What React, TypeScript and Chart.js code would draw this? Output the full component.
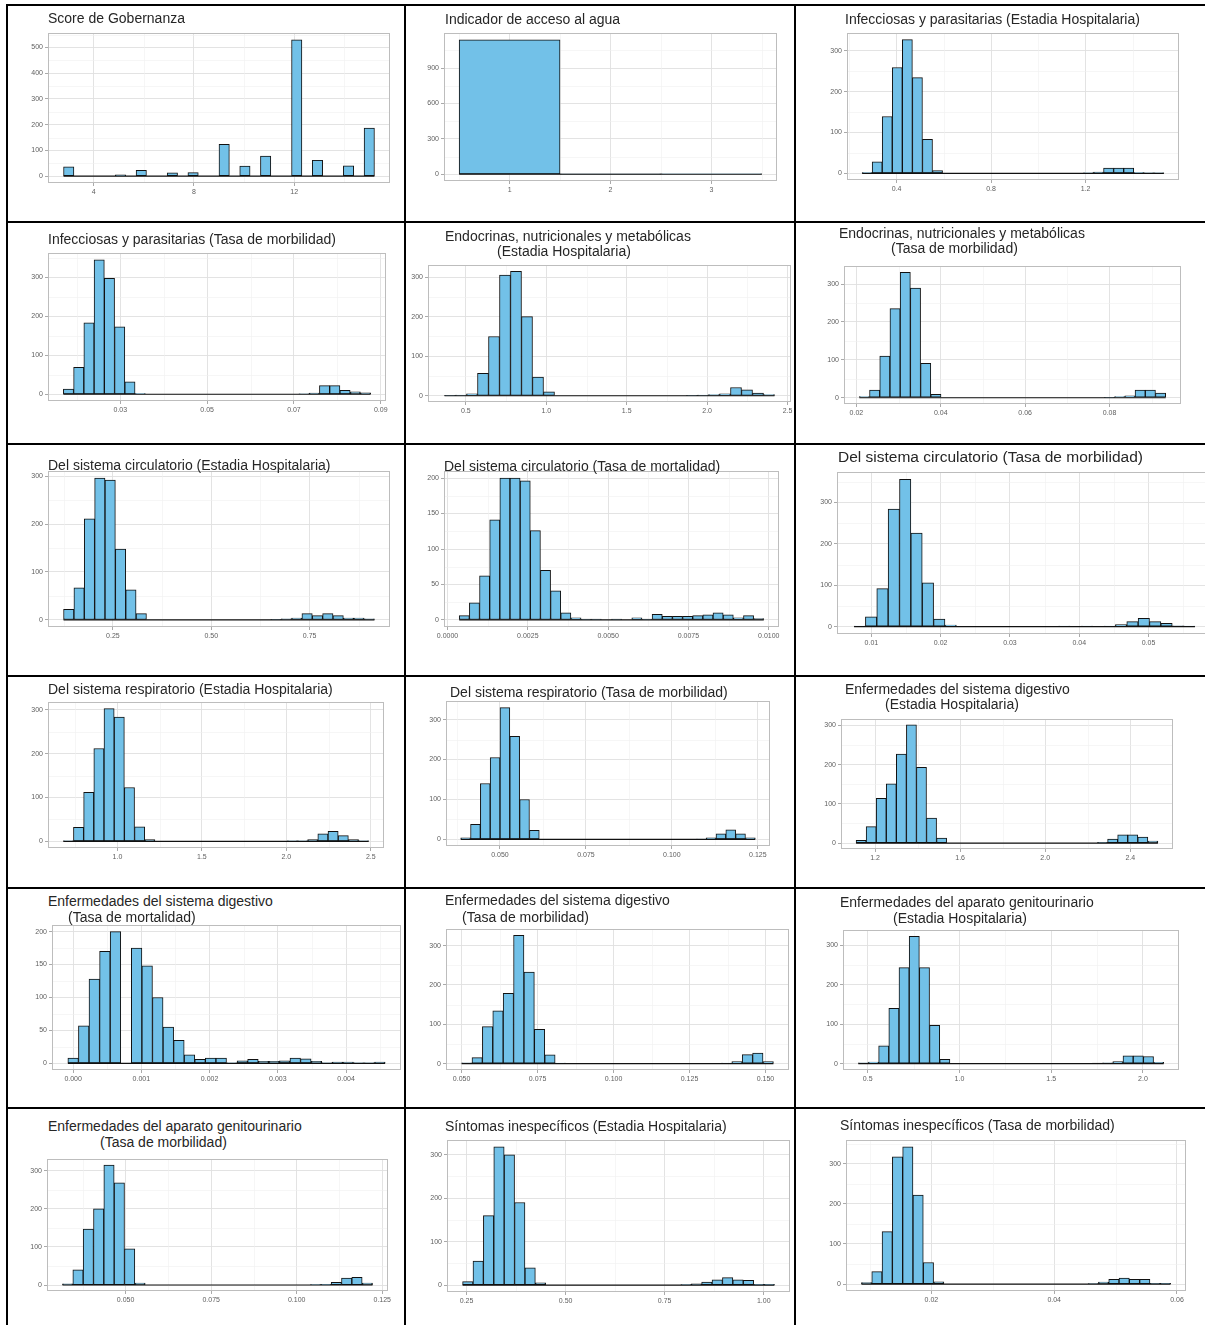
import React, { useEffect, useRef } from "react";
import { Chart, registerables } from "chart.js";

Chart.register(...registerables);

// ------------------------------------------------------------------
// DATA (counts per histogram bin, bin starts/widths, tick values)
// ------------------------------------------------------------------
const gobernanzaCounts = [36, 0, 0, 0, 0, 5, 0, 23, 0, 0, 13, 0, 14, 0, 0, 124, 0, 39, 0, 78, 0, 0, 530, 0, 62, 0, 0, 40, 0, 187];
const aguaCounts = [1140, 1, 2];
const infEstadiaCounts = [2, 28, 139, 259, 327, 234, 83, 7, 0, 0, 0, 0, 0, 0, 0, 0, 0, 0, 0, 0, 0, 0, 1, 3, 13, 13, 13, 2, 1, 1];
const infMorbCounts = [13, 69, 183, 345, 297, 173, 32, 2, 0, 0, 0, 0, 0, 0, 0, 0, 0, 0, 0, 0, 0, 0, 0, 1, 3, 22, 22, 10, 6, 4];
const endoEstadiaCounts = [1, 2, 5, 57, 150, 305, 315, 200, 47, 10, 0, 0, 0, 0, 0, 0, 0, 0, 0, 0, 0, 0, 1, 2, 3, 5, 21, 15, 7, 3];
const endoMorbCounts = [3, 20, 110, 235, 331, 289, 91, 9, 0, 0, 0, 0, 0, 0, 0, 0, 0, 0, 0, 0, 0, 0, 0, 0, 1, 3, 5, 20, 20, 12];
const circEstadiaCounts = [22, 67, 211, 296, 292, 148, 63, 13, 0, 0, 0, 0, 0, 0, 0, 0, 0, 0, 0, 0, 1, 2, 4, 13, 9, 13, 9, 4, 4, 2];
const circMortCounts = [6, 24, 62, 141, 200, 200, 196, 126, 70, 41, 10, 3, 1, 1, 0, 1, 0, 3, 1, 8, 5, 5, 5, 6, 7, 10, 7, 3, 6, 2];
const circMorbCounts = [1, 24, 92, 284, 356, 226, 106, 18, 4, 0, 0, 0, 0, 0, 0, 0, 0, 0, 1, 0, 1, 0, 1, 5, 12, 20, 12, 8, 2, 1];
const respEstadiaCounts = [1, 32, 112, 212, 303, 284, 123, 33, 4, 0, 0, 0, 0, 0, 0, 0, 0, 0, 0, 0, 0, 0, 1, 1, 4, 17, 23, 13, 4, 1];
const respMorbCounts = [4, 38, 140, 205, 330, 258, 100, 23, 0, 0, 0, 0, 0, 0, 0, 0, 0, 0, 0, 0, 0, 0, 0, 0, 1, 4, 14, 24, 14, 4];
const digEstadiaCounts = [7, 42, 114, 151, 227, 301, 193, 64, 13, 0, 0, 0, 0, 0, 0, 0, 0, 0, 0, 0, 0, 0, 0, 0, 2, 10, 21, 21, 15, 5];
const digMortCounts = [8, 57, 128, 170, 200, 0, 175, 148, 100, 55, 35, 13, 6, 8, 8, 1, 4, 6, 3, 3, 4, 8, 7, 3, 1, 2, 2, 1, 1, 2];
const digMorbCounts = [2, 15, 94, 134, 179, 326, 233, 87, 22, 1, 0, 0, 0, 0, 0, 0, 0, 0, 0, 0, 0, 0, 0, 0, 0, 1, 5, 23, 27, 5];
const genEstadiaCounts = [2, 4, 45, 140, 243, 322, 243, 97, 11, 0, 0, 0, 0, 0, 0, 0, 0, 0, 0, 0, 0, 0, 0, 1, 2, 5, 20, 20, 18, 3];
const genMorbCounts = [3, 40, 147, 200, 315, 268, 95, 5, 0, 0, 0, 0, 0, 0, 0, 0, 0, 0, 0, 0, 0, 0, 0, 0, 1, 2, 7, 18, 20, 5];
const sinEstadiaCounts = [8, 55, 160, 318, 300, 190, 40, 5, 0, 0, 0, 0, 0, 0, 0, 0, 0, 0, 0, 0, 0, 1, 3, 7, 12, 17, 12, 11, 2, 2];
const sinMorbCounts = [4, 31, 131, 317, 342, 222, 54, 6, 0, 0, 0, 0, 0, 0, 0, 0, 0, 0, 0, 0, 0, 0, 1, 5, 12, 15, 12, 12, 2, 2];

const binStarts = [2.793, 0.5, 0.254, 0.01687, 0.367, 0.0207, 0.1247, 0.000365, 0.0075, 0.679, 0.0386, 1.111, -0.0000775, 0.05, 0.4484, 0.03155, 0.24, 0.00861];
const binWidths = [0.4138, 1, 0.0426, 0.00236, 0.0684, 0.00242, 0.02633, 0.000316, 0.00164, 0.0603, 0.002855, 0.0473, 0.000155, 0.00342, 0.0555, 0.00302, 0.02623, 0.001678];

const gobernanzaTicks = [4, 8, 12];
const aguaTicks = [1, 2, 3];
const infEstadiaTicks = [0.4, 0.8, 1.2];
const infMorbTicks = [0.03, 0.05, 0.07, 0.09];
const endoEstadiaTicks = [0.5, 1.0, 1.5, 2.0, 2.5];
const endoMorbTicks = [0.02, 0.04, 0.06, 0.08];
const circEstadiaTicks = [0.25, 0.5, 0.75];
const circMortTicks = [0, 0.0025, 0.005, 0.0075, 0.01];
const circMorbTicks = [0.01, 0.02, 0.03, 0.04, 0.05];
const respEstadiaTicks = [1.0, 1.5, 2.0, 2.5];
const respMorbTicks = [0.05, 0.075, 0.1, 0.125];
const digEstadiaTicks = [1.2, 1.6, 2.0, 2.4];
const digMortTicks = [0, 0.001, 0.002, 0.003, 0.004];
const digMorbTicks = [0.05, 0.075, 0.1, 0.125, 0.15];
const genEstadiaTicks = [0.5, 1.0, 1.5, 2.0];
const genMorbTicks = [0.05, 0.075, 0.1, 0.125];
const sinEstadiaTicks = [0.25, 0.5, 0.75, 1.0];
const sinMorbTicks = [0.02, 0.04, 0.06];

const xDecimals = [0, 0, 1, 2, 1, 2, 2, 4, 2, 1, 3, 1, 3, 3, 1, 3, 2, 2];
const yTickSteps = [100, 300, 100, 100, 100, 100, 100, 50, 100, 100, 100, 100, 50, 100, 100, 100, 100, 100];

const titles: string[][] = [
  ["Score de Gobernanza"],
  ["Indicador de acceso al agua"],
  ["Infecciosas y parasitarias (Estadia Hospitalaria)"],
  ["Infecciosas y parasitarias (Tasa de morbilidad)"],
  ["Endocrinas, nutricionales y metabólicas", "(Estadia Hospitalaria)"],
  ["Endocrinas, nutricionales y metabólicas", "(Tasa de morbilidad)"],
  ["Del sistema circulatorio (Estadia Hospitalaria)"],
  ["Del sistema circulatorio (Tasa de mortalidad)"],
  ["Del sistema circulatorio (Tasa de morbilidad)"],
  ["Del sistema respiratorio (Estadia Hospitalaria)"],
  ["Del sistema respiratorio (Tasa de morbilidad)"],
  ["Enfermedades del sistema digestivo", "(Estadia Hospitalaria)"],
  ["Enfermedades del sistema digestivo", "(Tasa de mortalidad)"],
  ["Enfermedades del sistema digestivo", "(Tasa de morbilidad)"],
  ["Enfermedades del aparato genitourinario", "(Estadia Hospitalaria)"],
  ["Enfermedades del aparato genitourinario", "(Tasa de morbilidad)"],
  ["Síntomas inespecíficos (Estadia Hospitalaria)"],
  ["Síntomas inespecíficos (Tasa de morbilidad)"],
];

const countSeries = [
  gobernanzaCounts, aguaCounts, infEstadiaCounts, infMorbCounts, endoEstadiaCounts, endoMorbCounts,
  circEstadiaCounts, circMortCounts, circMorbCounts, respEstadiaCounts, respMorbCounts, digEstadiaCounts,
  digMortCounts, digMorbCounts, genEstadiaCounts, genMorbCounts, sinEstadiaCounts, sinMorbCounts,
];
const tickSeries = [
  gobernanzaTicks, aguaTicks, infEstadiaTicks, infMorbTicks, endoEstadiaTicks, endoMorbTicks,
  circEstadiaTicks, circMortTicks, circMorbTicks, respEstadiaTicks, respMorbTicks, digEstadiaTicks,
  digMortTicks, digMorbTicks, genEstadiaTicks, genMorbTicks, sinEstadiaTicks, sinMorbTicks,
];

// ------------------------------------------------------------------
// LAYOUT (plot-panel rectangles and title positions, page pixels)
// ------------------------------------------------------------------
const panelRects: [number, number, number, number][] = [
  [48, 33, 390, 183], [444, 33, 777, 181], [847, 33, 1179, 180],
  [48, 253, 386, 401], [428, 265, 791, 402], [844, 266, 1181, 404],
  [48, 471, 390, 627], [444, 471, 779, 627], [837, 472, 1212, 634],
  [48, 702, 384, 848], [446, 701, 770, 846], [841, 719, 1173, 849],
  [52, 925, 401, 1070], [446, 929, 789, 1070], [843, 930, 1179, 1070],
  [47, 1159, 388, 1291], [447, 1140, 790, 1292], [846, 1140, 1186, 1291],
];
const titleXs = [
  [48], [445], [845],
  [48], [445, 497], [839, 891],
  [48], [444], [838],
  [48], [450], [845, 885],
  [48, 68], [445, 462], [840, 893],
  [48, 100], [445], [840],
];
const titleYs = [
  [18], [19], [19],
  [239], [236, 251], [233, 248],
  [465], [466], [457],
  [689], [692], [689, 704],
  [901, 917], [900, 917], [902, 918],
  [1126, 1142], [1126], [1125],
];
const titleSizes = [14, 14, 14, 14, 14, 14, 14, 14, 15.5, 14, 14, 14, 14, 14, 14, 14, 14, 14];
const vLines = [7, 405, 795];
const hLines = [5, 222, 444, 676, 888, 1108];

// ------------------------------------------------------------------
// STYLE
// ------------------------------------------------------------------
const FONT = '"Liberation Sans", Arial, Helvetica, sans-serif';
const FILL = "#72C1E8";
const EDGE = "#111111";
const GRID_MAJOR = "#E0E0E0";
const GRID_MINOR = "#F0F0F0";
const PANEL_BORDER = "#BDBDBD";
const TICK_COLOR = "#A0A0A0";
const LABEL_COLOR = "#5E5E5E";
const AXIS_W = 34;
const AXIS_H = 18;
const PAD_T = 8;
const PAD_R = 24;

const ggPlugin = {
  id: "ggStyle",
  beforeDatasetsDraw(chart: any) {
    const { ctx, chartArea: a, scales } = chart;
    const x = scales.x;
    const y = scales.y;
    ctx.save();
    ctx.beginPath();
    ctx.rect(a.left, a.top, a.right - a.left, a.bottom - a.top);
    ctx.clip();
    ctx.strokeStyle = GRID_MINOR;
    ctx.lineWidth = 0.6;
    const drawMinor = (scale: any, horizontal: boolean) => {
      const vals = scale.ticks.map((t: any) => t.value);
      if (vals.length === 0) return;
      const step = vals.length > 1 ? vals[1] - vals[0] : 1;
      const k0 = Math.floor((scale.min - vals[0]) / step) - 1;
      const k1 = Math.ceil((scale.max - vals[0]) / step) + 1;
      for (let k = k0; k <= k1; k++) {
        const v = vals[0] + (k + 0.5) * step;
        if (v < scale.min || v > scale.max) continue;
        const p = Math.round(scale.getPixelForValue(v)) + 0.5;
        ctx.beginPath();
        if (horizontal) {
          ctx.moveTo(p, a.top);
          ctx.lineTo(p, a.bottom);
        } else {
          ctx.moveTo(a.left, p);
          ctx.lineTo(a.right, p);
        }
        ctx.stroke();
      }
    };
    drawMinor(x, true);
    drawMinor(y, false);
    ctx.restore();
  },
  afterDatasetsDraw(chart: any, _args: any, opts: any) {
    const { ctx, chartArea: a, scales } = chart;
    const x = scales.x;
    const y = scales.y;
    ctx.save();
    ctx.strokeStyle = EDGE;
    ctx.lineWidth = 1.2;
    const y0 = y.getPixelForValue(0);
    ctx.beginPath();
    ctx.moveTo(x.getPixelForValue(opts.first), y0);
    ctx.lineTo(x.getPixelForValue(opts.last), y0);
    ctx.stroke();
    ctx.strokeStyle = PANEL_BORDER;
    ctx.lineWidth = 1;
    ctx.strokeRect(a.left + 0.5, a.top + 0.5, a.right - a.left - 1, a.bottom - a.top - 1);
    ctx.restore();
  },
};

function Histogram({ idx }: { idx: number }) {
  const ref = useRef<HTMLCanvasElement>(null);
  const [L, T, R, B] = panelRects[idx];
  const cw = R - L + AXIS_W + PAD_R;
  const ch = B - T + PAD_T + AXIS_H;

  useEffect(() => {
    if (!ref.current) return;
    const counts = countSeries[idx];
    const start = binStarts[idx];
    const w = binWidths[idx];
    const first = start;
    const last = start + counts.length * w;
    const span = last - first;
    const maxC = Math.max(...counts);
    const yMax = 1.05 * maxC;
    const yStep = yTickSteps[idx];
    const majors = tickSeries[idx];
    const dec = xDecimals[idx];
    const tickFont = { family: FONT, size: 7 };

    const chart = new Chart(ref.current, {
      type: "bar",
      data: {
        datasets: [
          {
            data: counts.map((c, i) => ({ x: start + (i + 0.5) * w, y: c })),
            backgroundColor: FILL,
            borderColor: EDGE,
            borderWidth: 1,
            borderSkipped: false,
            barPercentage: 1,
            categoryPercentage: 1,
          } as any,
        ],
      },
      options: {
        animation: false,
        responsive: false,
        maintainAspectRatio: false,
        devicePixelRatio: 1,
        events: [],
        layout: { padding: { top: PAD_T, right: PAD_R, left: 0, bottom: 0 } },
        plugins: {
          legend: { display: false },
          tooltip: { enabled: false },
          title: { display: false },
          ggStyle: { first, last },
        } as any,
        scales: {
          x: {
            type: "linear",
            min: first - 0.05 * span,
            max: last + 0.05 * span,
            offset: false,
            border: { display: false },
            grid: { offset: false, color: GRID_MAJOR, lineWidth: 0.9, tickLength: 3, tickColor: TICK_COLOR },
            afterBuildTicks: (s: any) => {
              s.ticks = majors.map((v) => ({ value: v }));
            },
            afterFit: (s: any) => {
              s.height = AXIS_H;
            },
            ticks: {
              autoSkip: false,
              maxRotation: 0,
              minRotation: 0,
              padding: 2,
              color: LABEL_COLOR,
              font: tickFont,
              callback: (v: any) => Number(v).toFixed(dec),
            },
          },
          y: {
            type: "linear",
            min: -0.05 * maxC,
            max: yMax,
            border: { display: false },
            grid: { color: GRID_MAJOR, lineWidth: 0.9, tickLength: 3, tickColor: TICK_COLOR },
            afterBuildTicks: (s: any) => {
              const t: { value: number }[] = [];
              for (let k = 0; k * yStep <= yMax; k++) t.push({ value: k * yStep });
              s.ticks = t;
            },
            afterFit: (s: any) => {
              s.width = AXIS_W;
            },
            ticks: {
              autoSkip: false,
              padding: 2,
              color: LABEL_COLOR,
              font: tickFont,
              callback: (v: any) => String(Math.round(Number(v))),
            },
          },
        },
      } as any,
      plugins: [ggPlugin],
    });
    return () => chart.destroy();
  }, [idx]);

  return (
    <canvas
      ref={ref}
      width={cw}
      height={ch}
      style={{ position: "absolute", left: L - AXIS_W, top: T - PAD_T, width: cw, height: ch }}
    />
  );
}

function Title({ idx }: { idx: number }) {
  const size = titleSizes[idx];
  return (
    <>
      {titles[idx].map((line, j) => (
        <div
          key={j}
          style={{
            position: "absolute",
            left: titleXs[idx][j],
            top: titleYs[idx][j] - 9,
            height: 18,
            lineHeight: "18px",
            fontSize: size,
            fontFamily: FONT,
            color: "#262626",
            whiteSpace: "nowrap",
          }}
        >
          {line}
        </div>
      ))}
    </>
  );
}

export default function App() {
  return (
    <div
      style={{
        position: "absolute",
        left: 0,
        top: 0,
        width: 1205,
        height: 1325,
        overflow: "hidden",
        background: "#ffffff",
      }}
    >
      {countSeries.map((_, i) => (
        <Histogram key={"h" + i} idx={i} />
      ))}
      {countSeries.map((_, i) => (
        <Title key={"t" + i} idx={i} />
      ))}
      {vLines.map((x, i) => (
        <div
          key={"v" + i}
          style={{ position: "absolute", left: x - 1, top: hLines[0] - 1, width: 2, height: 1325, background: "#000" }}
        />
      ))}
      {hLines.map((y, i) => (
        <div
          key={"hl" + i}
          style={{ position: "absolute", left: vLines[0] - 1, top: y - 1, width: 1205, height: 2, background: "#000" }}
        />
      ))}
    </div>
  );
}
